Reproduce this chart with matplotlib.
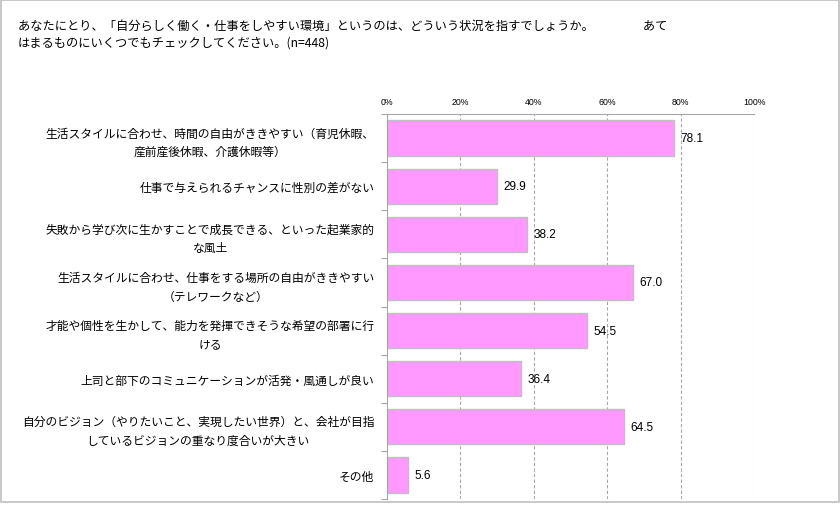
import matplotlib
matplotlib.use("Agg")
import matplotlib.pyplot as plt
from matplotlib.patches import Rectangle
from matplotlib.ticker import FixedLocator

plt.rcParams['font.family'] = ['Noto Sans CJK JP', 'DejaVu Sans']

# data
labels = [
    "生活スタイルに合わせ、時間の自由がききやすい（育児休暇、\n産前産後休暇、介護休暇等）",
    "仕事で与えられるチャンスに性別の差がない",
    "失敗から学び次に生かすことで成長できる、といった起業家的\nな風土",
    "生活スタイルに合わせ、仕事をする場所の自由がききやすい\n（テレワークなど）",
    "才能や個性を生かして、能力を発揮できそうな希望の部署に行\nける",
    "上司と部下のコミュニケーションが活発・風通しが良い",
    "自分のビジョン（やりたいこと、実現したい世界）と、会社が目指\nしているビジョンの重なり度合いが大きい",
    "その他",
]
values = [78.1, 29.9, 38.2, 67.0, 54.5, 36.4, 64.5, 5.6]
xticks = [0, 20, 40, 60, 80, 100]
title = ("あなたにとり、「自分らしく働く・仕事をしやすい環境」というのは、どういう状況を指すでしょうか。\u3000\u3000\u3000\u3000あて\n"
         "はまるものにいくつでもチェックしてください。(n=448)")

W, H = 840, 506
fig = plt.figure(figsize=(W / 100, H / 100), dpi=100)

# outer frame
fig.patches.append(Rectangle((0.5 / W, 3 / H), (W - 1.5) / W, (H - 3.5) / H,
                             transform=fig.transFigure, fill=False,
                             edgecolor='#bfbfbf', linewidth=1.2))

fig.text(18 / W, 1 - 20 / H, title, fontsize=8.8, va='top', ha='left',
         linespacing=1.4, color='#000000')

ax = fig.add_axes([387 / W, 1 - 500 / H, (754 - 387) / W, (500 - 115) / H])

pos = list(range(len(values)))
ax.barh(pos, values, height=0.73, color='#ff99ff', edgecolor='#bfbfbf', linewidth=1)

ax.set_xlim(0, 100)
ax.set_ylim(len(values) - 0.5, -0.5)

ax.xaxis.tick_top()
ax.set_xticks(xticks)
ax.set_xticklabels([f"{t}%" for t in xticks], fontsize=6.3, family='Liberation Sans')
ax.tick_params(axis='x', length=0, pad=6)
for t in xticks[1:]:
    ax.axvline(t, color='#a6a6a6', linestyle=(0, (3, 2)), linewidth=0.8, zorder=0)

ax.set_yticks(pos)
ax.set_yticklabels(labels, fontsize=8.5, multialignment='center', linespacing=1.55)
ax.tick_params(axis='y', length=0, pad=9)
ax.yaxis.set_minor_locator(FixedLocator([p - 0.5 for p in pos] + [len(values) - 0.5]))
ax.tick_params(axis='y', which='minor', length=4, color='#a6a6a6', width=0.8)

for s in ['right', 'bottom']:
    ax.spines[s].set_visible(False)
for s in ['left', 'top']:
    ax.spines[s].set_color('#a6a6a6')
    ax.spines[s].set_linewidth(0.8)

for p, v in zip(pos, values):
    ax.text(v + 1.8, p, f"{v:.1f}", va='center', ha='left', fontsize=8.5,
            family='Liberation Sans')

fig.savefig("out.png", dpi=100)
